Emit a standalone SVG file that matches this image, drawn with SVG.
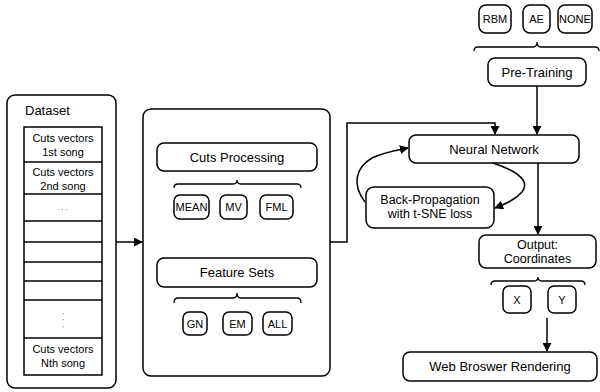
<svg xmlns="http://www.w3.org/2000/svg" width="600" height="392" viewBox="0 0 600 392">
<defs>
<marker id="ah" viewBox="0 0 10 10" refX="9" refY="5" markerWidth="9" markerHeight="9" markerUnits="userSpaceOnUse" orient="auto">
<path d="M0,0 L10,5 L0,10 Z" fill="#000"/>
</marker>
</defs>
<style>
.box{fill:#fff;stroke:#000;stroke-width:1.5}
.cell{fill:#fff;stroke:#000;stroke-width:1.5}
.t{font-family:"Liberation Sans",Arial,sans-serif;font-size:13px;fill:#000;text-anchor:middle}
.t2{font-family:"Liberation Sans",Arial,sans-serif;font-size:12.5px;fill:#000;text-anchor:middle}
.s{font-family:"Liberation Sans",Arial,sans-serif;font-size:11px;fill:#000;text-anchor:middle}
.c{font-family:"Liberation Sans",Arial,sans-serif;font-size:11px;fill:#000;text-anchor:middle}
.ln{fill:none;stroke:#000;stroke-width:1.5}
.br{fill:none;stroke:#000;stroke-width:1.3}
</style>

<g id="dataset">
<rect class="box" x="7" y="95" width="109" height="293" rx="8"/>
<text class="t" x="25" y="115" style="text-anchor:start">Dataset</text>
<rect class="cell" x="24" y="127" width="78" height="248"/>
<line class="ln" x1="24" y1="162" x2="102" y2="162"/>
<line class="ln" x1="24" y1="194" x2="102" y2="194"/>
<line class="ln" x1="24" y1="221" x2="102" y2="221"/>
<line class="ln" x1="24" y1="242" x2="102" y2="242"/>
<line class="ln" x1="24" y1="262" x2="102" y2="262"/>
<line class="ln" x1="24" y1="281" x2="102" y2="281"/>
<line class="ln" x1="24" y1="300" x2="102" y2="300"/>
<line class="ln" x1="24" y1="338" x2="102" y2="338"/>
<text class="c" x="63" y="142">Cuts vectors</text>
<text class="c" x="63" y="156">1st song</text>
<text class="c" x="63" y="176">Cuts vectors</text>
<text class="c" x="63" y="190">2nd song</text>
<g fill="#999"><rect x="58" y="209" width="1.2" height="1.2"/><rect x="62" y="209" width="1.2" height="1.2"/><rect x="66" y="209" width="1.2" height="1.2"/></g>
<g fill="#999"><rect x="62.5" y="313" width="1.2" height="1.2"/><rect x="62.5" y="319" width="1.2" height="1.2"/><rect x="62.5" y="326" width="1.2" height="1.2"/></g>
<text class="c" x="63" y="353">Cuts vectors</text>
<text class="c" x="63" y="367">Nth song</text>
</g>

<g id="processing">
<rect class="box" x="143" y="109" width="187" height="267" rx="8"/>
</g>
<g id="cuts-processing">
<rect class="box" x="157" y="143" width="160" height="28" rx="7"/>
<text class="t" x="237" y="162">Cuts Processing</text>
<path class="br" d="M174,188 Q174,184 178,184 L233,184 Q237,184 237,180 Q237,184 241,184 L297,184 Q301,184 301,188"/>
</g>
<g id="mean"><rect class="box" x="174" y="195" width="35" height="24" rx="6"/><text class="s" x="191.5" y="211">MEAN</text></g>
<g id="mv"><rect class="box" x="220" y="195" width="27" height="24" rx="6"/><text class="s" x="233.5" y="211">MV</text></g>
<g id="fml"><rect class="box" x="260" y="195" width="33" height="24" rx="6"/><text class="s" x="276.5" y="211">FML</text></g>
<g id="feature-sets">
<rect class="box" x="157" y="258" width="160" height="29" rx="7"/>
<text class="t" x="237" y="277">Feature Sets</text>
<path class="br" d="M174,303 Q174,298 178,298 L233,298 Q237,298 237,293 Q237,298 241,298 L297,298 Q301,298 301,303"/>
</g>
<g id="gn"><rect class="box" x="183" y="312" width="24" height="23" rx="6"/><text class="s" x="195" y="327.5">GN</text></g>
<g id="em"><rect class="box" x="223" y="312" width="29" height="23" rx="6"/><text class="s" x="237.5" y="327.5">EM</text></g>
<g id="all"><rect class="box" x="263" y="312" width="29" height="23" rx="6"/><text class="s" x="277.5" y="327.5">ALL</text></g>

<g id="rbm"><rect class="box" x="479" y="5" width="32" height="28" rx="7"/><text class="s" x="495" y="23">RBM</text></g>
<g id="ae"><rect class="box" x="523" y="5" width="27" height="28" rx="7"/><text class="s" x="536.5" y="23">AE</text></g>
<g id="none"><rect class="box" x="558" y="5" width="34" height="28" rx="7"/><text class="s" x="575" y="23">NONE</text></g>
<g id="pre-training">
<path class="br" d="M474,51 Q474,47 478,47 L533,47 Q537,47 537,42 Q537,47 541,47 L595,47 Q599,47 599,51"/>
<rect class="box" x="488" y="58" width="98" height="28" rx="7"/>
<text class="t" x="537" y="77">Pre-Training</text>
</g>

<g id="neural-network"><rect class="box" x="409" y="135" width="170" height="28" rx="7"/><text class="t" x="494" y="154">Neural Network</text></g>
<g id="back-propagation"><rect class="box" x="366" y="187" width="128" height="41" rx="8"/><text class="t2" x="430" y="204">Back-Propagation</text><text class="t2" x="430" y="218">with t-SNE loss</text></g>
<g id="output">
<rect class="box" x="479" y="235" width="117" height="33" rx="7"/>
<text class="t2" x="537.5" y="249">Output:</text>
<text class="t2" x="537.5" y="263">Coordinates</text>
<path class="br" d="M491,285 Q491,281 495,281 L534,281 Q538,281 538,277 Q538,281 542,281 L581,281 Q585,281 585,285"/>
</g>
<g id="x"><rect class="box" x="503" y="286" width="28" height="27" rx="6"/><text class="s" x="517" y="303.5">X</text></g>
<g id="y"><rect class="box" x="548" y="286" width="28" height="27" rx="6"/><text class="s" x="562" y="303.5">Y</text></g>
<g id="web"><rect class="box" x="403" y="352" width="194" height="29" rx="7"/><text class="t" x="500" y="371">Web Broswer Rendering</text></g>

<g id="connectors">
<line class="ln" x1="116" y1="242" x2="142" y2="242" marker-end="url(#ah)"/>
<path class="ln" d="M330,242 L347,242 L347,123 L495,123 L495,134" marker-end="url(#ah)"/>
<line class="ln" x1="537" y1="86" x2="537" y2="134" marker-end="url(#ah)"/>
<line class="ln" x1="538" y1="163" x2="538" y2="234" marker-end="url(#ah)"/>
<path class="ln" d="M493,163 C520,172 530,182 522,192 C515,200 505,204 495,208" marker-end="url(#ah)"/>
<path class="ln" d="M365,202 C352,185 355,168 372,158 C385,152 398,150 408,148" marker-end="url(#ah)"/>
<line class="ln" x1="547" y1="318" x2="547" y2="351" marker-end="url(#ah)"/>
</g>
</svg>
